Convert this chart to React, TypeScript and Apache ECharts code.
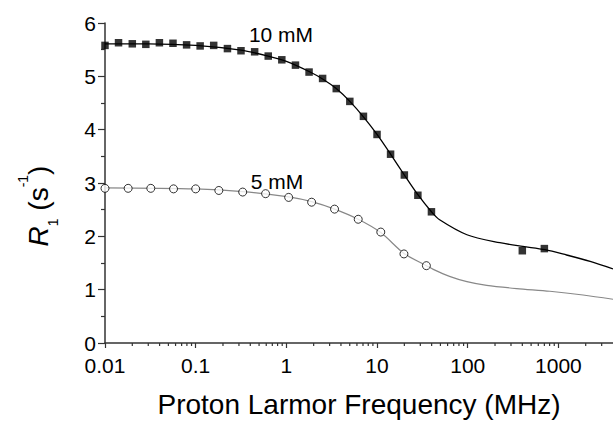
import React, { useEffect, useRef } from "react";
import * as echarts from "echarts";

const FONT = 'Arial, "Liberation Sans", sans-serif';

// 10 mM measured points
const freq10 = [0.01, 0.0141, 0.02, 0.0282, 0.0398, 0.0562, 0.0794, 0.112, 0.158, 0.224, 0.316, 0.447, 0.631, 0.891, 1.26, 1.78, 2.51, 3.55, 5.01, 7.08, 10.0, 14.1, 20.0, 28.2, 39.8, 400, 700];
const r10 = [5.58, 5.63, 5.61, 5.6, 5.63, 5.62, 5.59, 5.57, 5.58, 5.52, 5.48, 5.46, 5.38, 5.31, 5.21, 5.08, 4.96, 4.77, 4.53, 4.25, 3.91, 3.54, 3.15, 2.77, 2.46, 1.73, 1.77];

// 5 mM measured points
const freq5 = [0.01, 0.018, 0.032, 0.057, 0.1, 0.18, 0.33, 0.59, 1.06, 1.9, 3.4, 6.2, 11, 19.8, 35];
const r5 = [2.9, 2.9, 2.9, 2.89, 2.89, 2.86, 2.83, 2.8, 2.73, 2.64, 2.51, 2.32, 2.08, 1.67, 1.45];

// fitted curves
const fit10Freq = [0.01, 0.03, 0.1, 0.316, 0.631, 1, 1.78, 2.51, 3.55, 5.01, 7.08, 10, 14.1, 20, 28.2, 39.8, 49, 98, 226, 405, 710, 1230, 2240, 4000];
const fit10R = [5.61, 5.61, 5.58, 5.49, 5.38, 5.28, 5.09, 4.95, 4.77, 4.53, 4.24, 3.91, 3.54, 3.15, 2.78, 2.46, 2.31, 2.03, 1.88, 1.81, 1.75, 1.65, 1.53, 1.39];
const fit5Freq = [0.01, 0.1, 0.33, 1.06, 1.9, 3.4, 6.2, 11, 19.8, 35, 41.7, 63, 98, 162, 347, 805, 1870, 4000];
const fit5R = [2.91, 2.89, 2.84, 2.74, 2.65, 2.51, 2.32, 2.07, 1.68, 1.45, 1.38, 1.25, 1.15, 1.08, 1.02, 0.97, 0.9, 0.82];

// x-axis minor tick positions
const minorTicks = [
  0.02, 0.03, 0.04, 0.05, 0.06, 0.07, 0.08, 0.09,
  0.2, 0.3, 0.4, 0.5, 0.6, 0.7, 0.8, 0.9,
  2, 3, 4, 5, 6, 7, 8, 9,
  20, 30, 40, 50, 60, 70, 80, 90,
  200, 300, 400, 500, 600, 700, 800, 900,
  2000, 3000,
];

const xName = "Proton Larmor Frequency (MHz)";
const label10 = "10 mM";
const label5 = "5 mM";

const zip = (a: number[], b: number[]) => a.map((v, i) => [v, b[i]]);

export default function App() {
  const ref = useRef<HTMLDivElement>(null);
  useEffect(() => {
    if (!ref.current) return;
    const chart = echarts.init(ref.current, null, { renderer: "svg" });
    const axisColor = "#333";
    chart.setOption({
      animation: false,
      backgroundColor: "#fff",
      grid: { left: 105, top: 23, width: 508, height: 320, containLabel: false },
      xAxis: {
        type: "log",
        logBase: 10,
        min: 0.01,
        max: 4000,
        name: xName,
        nameLocation: "middle",
        nameGap: 47,
        nameTextStyle: { fontSize: 28, fontFamily: FONT, color: "#000" },
        axisLine: { show: true, lineStyle: { color: axisColor, width: 1.5 } },
        axisTick: { show: true, length: 5, inside: false, lineStyle: { color: axisColor, width: 1.2 } },
        minorTick: { show: false },
        splitLine: { show: false },
        axisLabel: {
          fontSize: 21,
          fontFamily: FONT,
          color: "#000",
          margin: 12,
          showMaxLabel: false,
          formatter: (v: number) => String(+(+v).toPrecision(6)),
        },
      },
      yAxis: {
        type: "value",
        min: 0,
        max: 6,
        interval: 1,
        axisLine: { show: true, lineStyle: { color: axisColor, width: 1.5 } },
        axisTick: { show: true, length: 7, inside: false, lineStyle: { color: axisColor, width: 1.2 } },
        minorTick: { show: true, splitNumber: 2, length: 4, lineStyle: { color: axisColor, width: 1.2 } },
        splitLine: { show: false },
        axisLabel: { fontSize: 21, fontFamily: FONT, color: "#000", margin: 9 },
      },
      series: [
        {
          type: "custom",
          silent: true,
          clip: false,
          data: minorTicks.map((v) => [v, 0]),
          encode: { x: 0, y: 1 },
          renderItem: (params: any, api: any) => {
            const p = api.coord([api.value(0), 0]);
            return {
              type: "line",
              shape: { x1: p[0], y1: p[1], x2: p[0], y2: p[1] + 3 },
              style: { stroke: axisColor, lineWidth: 1.2 },
            };
          },
          z: 1,
        },
        {
          type: "line",
          data: zip(fit5Freq, fit5R),
          smooth: 0.3,
          showSymbol: false,
          symbol: "none",
          lineStyle: { color: "#888", width: 1.2 },
          z: 2,
        },
        {
          type: "line",
          data: zip(fit10Freq, fit10R),
          smooth: 0.3,
          showSymbol: false,
          symbol: "none",
          lineStyle: { color: "#000", width: 1.3 },
          z: 2,
        },
        {
          type: "scatter",
          data: zip(freq10, r10),
          symbol: "rect",
          symbolSize: 7.5,
          itemStyle: { color: "#000" },
          z: 3,
        },
        {
          type: "scatter",
          data: zip(freq5, r5),
          symbol: "circle",
          symbolSize: 8,
          itemStyle: { color: "#fff", borderColor: "#000", borderWidth: 1 },
          z: 3,
        },
      ],
      graphic: [
        {
          type: "text",
          x: 281,
          y: 34,
          style: { text: label10, fontSize: 21, fontFamily: FONT, fill: "#000", align: "center", verticalAlign: "middle" },
        },
        {
          type: "text",
          x: 277,
          y: 181,
          style: { text: label5, fontSize: 21, fontFamily: FONT, fill: "#000", align: "center", verticalAlign: "middle" },
        },
        {
          type: "text",
          x: 38,
          y: 206,
          rotation: Math.PI / 2,
          style: {
            text: "{i|R}{sub|1}{n| (s}{sup|-1}{n|)}",
            fontFamily: FONT,
            fontSize: 28,
            fill: "#000",
            align: "center",
            verticalAlign: "middle",
            rich: {
              i: { fontSize: 28, fontStyle: "italic", fontFamily: FONT, lineHeight: 44, fill: "#000" },
              n: { fontSize: 28, fontFamily: FONT, lineHeight: 44, fill: "#000" },
              sub: { fontSize: 14, fontFamily: FONT, lineHeight: 16, verticalAlign: "bottom", fill: "#000" },
              sup: { fontSize: 14, fontFamily: FONT, lineHeight: 16, verticalAlign: "top", fill: "#000" },
            },
          },
        },
      ],
    });
    return () => chart.dispose();
  }, []);
  return <div ref={ref} style={{ position: "absolute", left: 0, top: 0, width: 613, height: 425 }} />;
}
